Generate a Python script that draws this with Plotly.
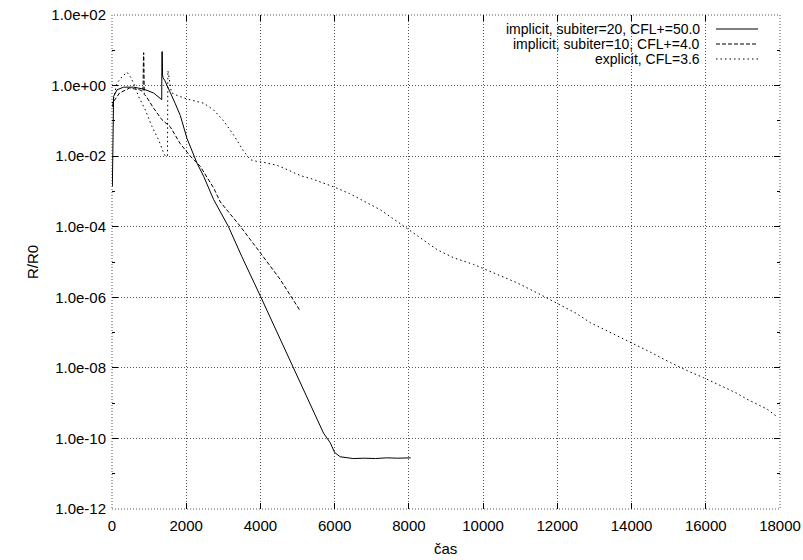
import plotly.graph_objects as go

# ---- data (x = time, y given as log10 of R/R0) ----
implicit20_x = [10, 20, 43, 135, 313, 582, 852, 1121, 1329, 1340, 1346, 1356, 1362, 1375, 1420, 1490,
                1571, 1700, 1841, 2021, 2291, 2469, 2738, 3135, 3500, 4000, 4500, 5000, 5400, 5700,
                5880, 6000, 6150, 6300, 6500, 6800, 7100, 7400, 7700, 8050]
implicit20_log = [-2.86, -1.0, -0.31, -0.12, -0.045, -0.045, -0.10, -0.21, -0.38, -0.40, 0.96, 0.96,
                  0.30, 0.22, 0.15, 0.0, -0.2, -0.5, -0.85, -1.5, -2.2, -2.57, -3.23, -3.99, -4.85,
                  -5.97, -7.1, -8.25, -9.15, -9.85, -10.12, -10.4, -10.52, -10.55, -10.57, -10.56,
                  -10.57, -10.55, -10.56, -10.55]

implicit10_x = [10, 43, 205, 474, 744, 835, 850, 856, 870, 924, 1121, 1348, 1571, 1841, 2110, 2380,
                2560, 2738, 2919, 3458, 3997, 4536, 5050]
implicit10_log = [-0.6, -0.45, -0.21, -0.07, -0.12, -0.17, 0.93, 0.93, -0.25, -0.31, -0.64, -0.97,
                  -1.17, -1.65, -2.0, -2.29, -2.6, -2.9, -3.3, -3.99, -4.74, -5.50, -6.35]

explicit_x = [10, 70, 135, 270, 404, 493, 582, 717, 897, 1078, 1257, 1391, 1437, 1495, 1505, 1520,
              1600, 1752, 2021, 2250, 2469, 2738, 3008, 3277, 3547, 3727, 3907, 4100, 4447, 4716,
              5075, 5400, 5973, 6400, 6781, 7231, 7681, 7994, 8400, 8759, 9206, 9746, 10015, 10500,
              10915, 11500, 11993, 12500, 12890, 13400, 13968, 14500, 15046, 15500, 15944, 16393,
              16800, 17113, 17652, 17950]
explicit_log = [-0.5, -0.21, 0.07, 0.25, 0.38, 0.25, 0.07, -0.31, -0.69, -1.16, -1.54, -1.91, -2.0,
                -2.0, 0.42, 0.35, -0.2, -0.28, -0.38, -0.45, -0.5, -0.69, -1.0, -1.40, -1.86, -2.10,
                -2.15, -2.18, -2.26, -2.38, -2.55, -2.65, -2.87, -3.06, -3.28, -3.52, -3.85, -4.08,
                -4.40, -4.65, -4.88, -5.07, -5.19, -5.40, -5.59, -5.90, -6.16, -6.45, -6.72, -6.98,
                -7.29, -7.55, -7.85, -8.08, -8.28, -8.51, -8.70, -8.89, -9.17, -9.41]

series_names = ["implicit, subiter=20, CFL+=50.0",
                "implicit, subiter=10, CFL+=4.0",
                "explicit, CFL=3.6"]

x_ticks = [0, 2000, 4000, 6000, 8000, 10000, 12000, 14000, 16000, 18000]
y_tick_exp = [2, 0, -2, -4, -6, -8, -10, -12]
y_tick_text = ["1.0e+02", "1.0e+00", "1.0e-02", "1.0e-04", "1.0e-06", "1.0e-08", "1.0e-10", "1.0e-12"]
y_minor_exp = [1, -1, -3, -5, -7, -9, -11]

# ---- figure ----
FONT = "Liberation Sans, Arial, Helvetica, sans-serif"
dashes = ["solid", "4px,2px", "1.5px,3px"]
xs = [implicit20_x, implicit10_x, explicit_x]
logs = [implicit20_log, implicit10_log, explicit_log]

fig = go.Figure()
for name, x, lg, d in zip(series_names, xs, logs, dashes):
    fig.add_trace(go.Scatter(x=x, y=[10 ** v for v in lg], mode="lines", name=name,
                             line=dict(color="black", width=1, dash=d), showlegend=False))

L, R, T, B = 112, 23, 15, 51
W, H = 803, 560
pw, ph = W - L - R, H - T - B

grid = dict(showgrid=True, gridcolor="#555", griddash="1px,2px", gridwidth=1, zeroline=False,
            showline=False, ticks="inside", ticklen=6, tickcolor="black", tickwidth=1,
            mirror="ticks", tickfont=dict(family=FONT, size=15, color="black"))

fig.update_xaxes(range=[0, 18000], tickvals=x_ticks, tickformat="d", ticklabelstandoff=6, **grid)
fig.update_yaxes(type="log", range=[-12, 2], tickvals=[10 ** e for e in y_tick_exp],
                 ticktext=y_tick_text, ticklabelstandoff=5,
                 minor=dict(tickvals=[10 ** e for e in y_minor_exp], ticks="inside", ticklen=3,
                            tickcolor="black", showgrid=False),
                 **grid)

# border drawn as dotted lines (gnuplot grid at the edges)
fig.add_shape(type="rect", xref="paper", yref="paper", x0=0, x1=1, y0=0, y1=1,
              line=dict(color="#555", width=1, dash="1px,2px"), layer="below")

# axis titles
fig.add_annotation(text="R/R0", xref="paper", yref="paper", x=(32 - L) / pw, y=0.5,
                   textangle=-90, showarrow=False, xanchor="center", yanchor="middle",
                   font=dict(family=FONT, size=15, color="black"))
fig.add_annotation(text="čas", xref="paper", yref="paper", x=(445 - L) / pw,
                   y=-(548 - (H - B)) / ph, showarrow=False, xanchor="center", yanchor="middle",
                   font=dict(family=FONT, size=15, color="black"))

# gnuplot-style key: right-aligned text, sample on the right
rows_y = [29, 44, 59]
for name, d, ry in zip(series_names, dashes, rows_y):
    py = (H - B - ry) / ph
    fig.add_annotation(text=name, xref="paper", yref="paper", x=(702 - L) / pw, y=py,
                       xanchor="right", yanchor="middle", showarrow=False,
                       font=dict(family=FONT, size=14, color="black"))
    fig.add_shape(type="line", xref="paper", yref="paper", x0=(716 - L) / pw, x1=(758 - L) / pw,
                  y0=py, y1=py, line=dict(color="black", width=1, dash=d))

fig.update_layout(width=W, height=H, margin=dict(l=L, r=R, t=T, b=B, autoexpand=False),
                  paper_bgcolor="white", plot_bgcolor="white",
                  font=dict(family=FONT, size=15, color="black"))

fig.write_html("out.html", config={"displayModeBar": False},
               post_script="document.body.style.margin='0';document.body.style.overflow='hidden';")
